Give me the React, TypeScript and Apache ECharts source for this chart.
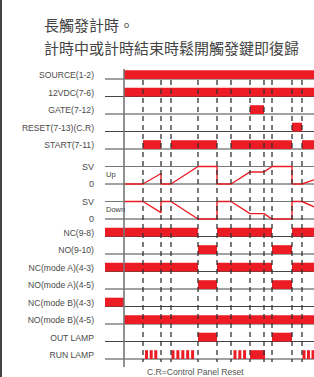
import React, { useEffect, useRef } from 'react';
import * as echarts from 'echarts';

// ---------- text ----------
const TITLE_1 = '長觸發計時。';
const TITLE_2 = '計時中或計時結束時鬆開觸發鍵即復歸';
const FOOTNOTE = 'C.R=Control Panel Reset';

const ROW_LABELS = [
  'SOURCE(1-2)',
  '12VDC(7-6)',
  'GATE(7-12)',
  'RESET(7-13)(C.R)',
  'START(7-11)',
  'SV',
  '0',
  'SV',
  '0',
  'NC(9-8)',
  'NO(9-10)',
  'NC(mode A)(4-3)',
  'NO(mode A)(4-5)',
  'NC(mode B)(4-3)',
  'NO(mode B)(4-5)',
  'OUT LAMP',
  'RUN LAMP',
];
const ANALOG_ROWS = [5, 6, 7, 8];
const ANALOG_NAMES = ['Up', 'Down'];

// ---------- time axis ----------
const T_START = -19;
const T_END = 190;
const POWER_ON = 0;
const EVENT_TIMES = [19, 37, 47, 74, 93, 107, 126, 140, 148, 168, 178];

// ---------- digital signals: [on, off] ----------
const SOURCE_ON = [[0, 190]];
const VDC_ON = [[0, 190]];
const GATE_ON = [[126, 140]];
const RESET_ON = [[168, 178]];
const START_ON = [[19, 37], [47, 93], [107, 168], [178, 190]];
const NC_98_ON = [[-19, 74], [93, 148], [168, 190]];
const NO_910_ON = [[74, 93], [148, 168]];
const NC_A_ON = [[-19, 74], [93, 148], [168, 190]];
const NO_A_ON = [[74, 93], [148, 168]];
const NC_B_ON = [[-19, 0]];
const NO_B_ON = [[0, 190]];
const OUT_LAMP_ON = [[74, 93], [148, 168]];
const RUN_LAMP_ON = [
  [21, 24], [25.7, 28.7], [30.3, 33.3],
  [47.5, 50.5], [52.4, 55.4], [57.3, 60.3], [62.2, 65.2], [67.1, 70.1],
  [109.5, 112.5], [114.3, 117.3], [119.1, 122.1], [126, 141],
  [178.5, 181.5], [183, 186], [187.5, 190],
];

// ---------- analog (fraction of SV) ----------
const UP_WAVE = [
  [0, 0], [19, 0], [37, 0.6], [37, 0], [47, 0], [74, 1], [93, 1], [93, 0],
  [107, 0], [126, 0.69], [140, 0.69], [148, 1], [168, 1], [168, 0], [178, 0], [190, 0.24],
];
const DOWN_WAVE = [
  [0, 1], [19, 1], [37, 0.36], [37, 1], [47, 1], [74, 0], [93, 0], [93, 1],
  [107, 1], [126, 0.31], [140, 0.31], [148, 0], [168, 0], [168, 1], [178, 1], [190, 0.7],
];

// ---------- layout / style ----------
const RED = '#ed1c24';
const W = 314;
const H = 377;
const GRID_LEFT = 105;
const ROW_TOP = 79;
const ROW_GAP = 17.5;
const BAR_H = 8.8;
const FONT = 'Liberation Sans';

export default function App() {
  const ref = useRef<HTMLDivElement>(null);

  useEffect(() => {
    if (!ref.current) return;
    const chart = echarts.init(ref.current, undefined, { renderer: 'svg' });

    const signalRows: [number, number[][]][] = [
      [0, SOURCE_ON], [1, VDC_ON], [2, GATE_ON], [3, RESET_ON], [4, START_ON],
      [9, NC_98_ON], [10, NO_910_ON], [11, NC_A_ON], [12, NO_A_ON],
      [13, NC_B_ON], [14, NO_B_ON], [15, OUT_LAMP_ON], [16, RUN_LAMP_ON],
    ];
    const barData: number[][] = [];
    signalRows.forEach(([row, list]) => list.forEach(([a, b]) => barData.push([a, b, row])));

    const baseData = ROW_LABELS.map((_, i) => [T_START, i]);
    const vData = [[POWER_ON, 0], ...EVENT_TIMES.map((t) => [t, 1])];

    const upTop = ROW_TOP + 5 * ROW_GAP;
    const downTop = ROW_TOP + 7 * ROW_GAP;

    const option: any = {
      animation: false,
      title: {
        text: TITLE_1 + '\n' + TITLE_2,
        left: 39,
        top: 8,
        textStyle: {
          fontSize: 15,
          lineHeight: 23,
          fontWeight: 'normal',
          color: '#444',
          fontFamily: 'Noto Sans CJK TC',
        },
      },
      grid: [
        { left: GRID_LEFT, right: 0, top: ROW_TOP, height: ROW_GAP * 16 },
        { left: GRID_LEFT, right: 0, top: upTop, height: ROW_GAP },
        { left: GRID_LEFT, right: 0, top: downTop, height: ROW_GAP },
      ],
      xAxis: [0, 1, 2].map((g) => ({
        type: 'value', gridIndex: g, min: T_START, max: T_END, show: false,
      })),
      yAxis: [
        { type: 'value', gridIndex: 0, min: 0, max: 16, inverse: true, show: false },
        { type: 'value', gridIndex: 1, min: 0, max: 1, show: false },
        { type: 'value', gridIndex: 2, min: 0, max: 1, show: false },
      ],
      graphic: [
        { type: 'rect', shape: { x: 0, y: 0, width: 2, height: H }, style: { fill: '#444' } },
        {
          type: 'text', left: 147, top: 367,
          style: { text: FOOTNOTE, fontSize: 8.6, fontFamily: FONT, fill: '#555' },
        },
      ],
      series: [
        // baselines
        {
          type: 'custom', xAxisIndex: 0, yAxisIndex: 0, z: 1, silent: true,
          data: baseData, encode: { x: 0, y: 1 },
          renderItem: (params: any, api: any) => {
            const row = api.value(1);
            const a = api.coord([T_START, row]);
            const b = api.coord([T_END, row]);
            const isSV = row === 5 || row === 7;
            return {
              type: 'line',
              shape: { x1: a[0], y1: a[1], x2: b[0] + 2, y2: b[1] },
              style: { stroke: isSV ? '#777' : '#444', lineWidth: 1 },
            };
          },
        },
        // digital bars
        {
          type: 'custom', xAxisIndex: 0, yAxisIndex: 0, z: 2, silent: true,
          data: barData, encode: { x: [0, 1], y: 2 },
          renderItem: (params: any, api: any) => {
            const s = api.coord([api.value(0), api.value(2)]);
            const e = api.coord([api.value(1), api.value(2)]);
            return {
              type: 'rect',
              shape: { x: s[0], y: s[1] - BAR_H, width: e[0] - s[0] + (api.value(1) >= T_END ? 2 : 0), height: BAR_H },
              style: { fill: RED },
            };
          },
        },
        // analog
        {
          type: 'line', xAxisIndex: 1, yAxisIndex: 1, z: 3, data: UP_WAVE,
          showSymbol: false, clip: false, silent: true,
          lineStyle: { color: RED, width: 1.4 },
        },
        {
          type: 'line', xAxisIndex: 2, yAxisIndex: 2, z: 3, data: DOWN_WAVE,
          showSymbol: false, clip: false, silent: true,
          lineStyle: { color: RED, width: 1.4 },
        },
        // vertical timing lines
        {
          type: 'custom', xAxisIndex: 0, yAxisIndex: 0, z: 4, silent: true,
          data: vData, encode: { x: 0, y: 1 },
          renderItem: (params: any, api: any) => {
            const t = api.value(0);
            const dashed = api.value(1) === 1;
            const top = api.coord([t, 0]);
            const bot = api.coord([t, 16]);
            return {
              type: 'line',
              shape: {
                x1: top[0], y1: top[1] - (dashed ? -1 : 10),
                x2: top[0], y2: bot[1] + (dashed ? 3 : 8),
              },
              style: dashed
                ? { stroke: '#333', lineWidth: 1.3, lineDash: [5, 4] }
                : { stroke: '#777', lineWidth: 1.6 },
            };
          },
        },
        // row labels
        {
          type: 'custom', xAxisIndex: 0, yAxisIndex: 0, z: 5, silent: true,
          data: baseData, encode: { x: 0, y: 1 },
          renderItem: (params: any, api: any) => {
            const row = api.value(1);
            const p = api.coord([T_START, row]);
            const analog = ANALOG_ROWS.indexOf(row) >= 0;
            const children: any[] = [
              {
                type: 'text',
                x: p[0] - 11,
                y: analog ? p[1] : p[1] - 4,
                style: {
                  text: ROW_LABELS[row],
                  fill: '#4a4a4a',
                  fontSize: analog ? 9 : 8.6,
                  fontFamily: FONT,
                  align: 'right', textAlign: 'right',
                  verticalAlign: 'middle', textVerticalAlign: 'middle',
                },
              },
            ];
            if (row === 5 || row === 7) {
              children.push({
                type: 'text',
                x: p[0] + 1,
                y: p[1] + ROW_GAP / 2 - 1,
                style: {
                  text: ANALOG_NAMES[row === 5 ? 0 : 1],
                  fill: '#444',
                  fontSize: 7.5,
                  fontFamily: FONT,
                  align: 'left', textAlign: 'left',
                  verticalAlign: 'middle', textVerticalAlign: 'middle',
                },
              });
            }
            return { type: 'group', children };
          },
        },
      ],
    };

    chart.setOption(option);
    return () => chart.dispose();
  }, []);

  return (
    <div
      ref={ref}
      style={{ position: 'fixed', left: 0, top: 0, width: W, height: H, background: '#fff' }}
    />
  );
}
